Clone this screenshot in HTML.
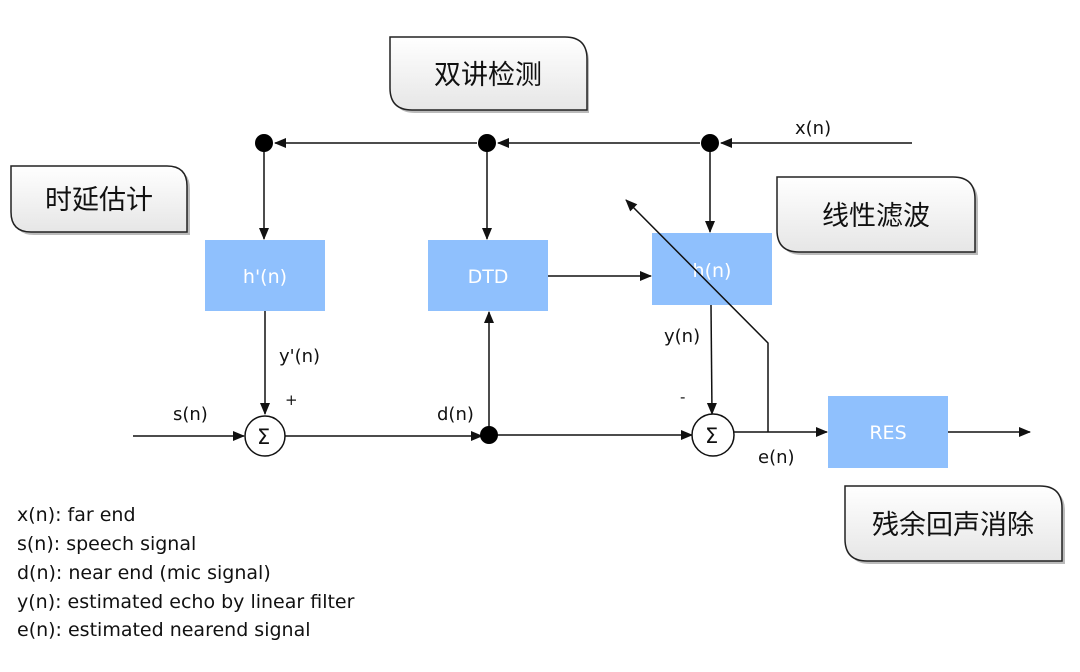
<!DOCTYPE html>
<html><head><meta charset="utf-8"><style>
body{margin:0;background:#fff}
svg{display:block}
text{font-family:"DejaVu Sans","Noto Sans CJK SC",sans-serif}
.cjk{font-family:"Noto Sans CJK SC",sans-serif}
</style></head><body>
<svg width="1080" height="672" viewBox="0 0 1080 672">
<defs>
<linearGradient id="g" x1="0" y1="0" x2="0" y2="1"><stop offset="0" stop-color="#fff"/><stop offset="1" stop-color="#e6e6e6"/></linearGradient>
<marker id="a" markerWidth="12" markerHeight="12" refX="11" refY="6" orient="auto" markerUnits="userSpaceOnUse"><path d="M0,1 L12,6 L0,11 z" fill="#111"/></marker>
</defs>
<g stroke="#222" stroke-width="1.5" fill="url(#g)">
<path d="M393,40 H567 Q589,40 589,62 V113 H415 Q393,113 393,91 Z" fill="#bbb" stroke="none"/>
<path d="M390,37 H565 Q587,37 587,59 V110 H412 Q390,110 390,88 Z"/>
<path d="M14,169 H170 Q190,169 190,189 V235 H34 Q14,235 14,215 Z" fill="#bbb" stroke="none"/>
<path d="M11,166 H167 Q187,166 187,186 V232 H31 Q11,232 11,212 Z"/>
<path d="M780,180 H956 Q978,180 978,202 V255 H802 Q780,255 780,233 Z" fill="#bbb" stroke="none"/>
<path d="M777,177 H953 Q975,177 975,199 V252 H799 Q777,252 777,230 Z"/>
<path d="M848,489 H1043 Q1065,489 1065,511 V564 H870 Q848,564 848,542 Z" fill="#bbb" stroke="none"/>
<path d="M845,486 H1040 Q1062,486 1062,508 V561 H867 Q845,561 845,539 Z"/>
</g>
<g font-size="27" fill="#111" text-anchor="middle" class="cjk">
<text class="cjk" x="488" y="84">双讲检测</text>
<text class="cjk" x="99" y="209">时延估计</text>
<text class="cjk" x="876" y="225">线性滤波</text>
<text class="cjk" x="953" y="534">残余回声消除</text>
</g>
<g fill="#8fc0fd">
<rect x="205" y="240" width="120" height="71"/>
<rect x="428" y="240" width="120" height="71"/>
<rect x="652" y="233" width="120" height="72"/>
<rect x="828" y="396" width="120" height="72"/>
</g>
<g fill="#fff" font-size="19" text-anchor="middle">
<text x="265" y="283">h'(n)</text>
<text x="488" y="283">DTD</text>
<text x="712" y="277">h(n)</text>
<text x="888" y="439">RES</text>
</g>
<g stroke="#111" stroke-width="1.5" fill="none">
<line x1="912" y1="143" x2="721" y2="143" marker-end="url(#a)"/>
<line x1="700" y1="143" x2="498" y2="143" marker-end="url(#a)"/>
<line x1="477" y1="143" x2="275" y2="143" marker-end="url(#a)"/>
<line x1="264" y1="143" x2="264" y2="239" marker-end="url(#a)"/>
<line x1="487" y1="143" x2="487" y2="239" marker-end="url(#a)"/>
<line x1="710" y1="143" x2="710" y2="232" marker-end="url(#a)"/>
<line x1="548" y1="276" x2="651" y2="276" marker-end="url(#a)"/>
<line x1="265" y1="311" x2="265" y2="414" marker-end="url(#a)"/>
<line x1="711" y1="305" x2="712" y2="414" marker-end="url(#a)"/>
<line x1="133" y1="436" x2="244" y2="436" marker-end="url(#a)"/>
<line x1="285" y1="436" x2="482" y2="436" marker-end="url(#a)"/>
<line x1="489" y1="436" x2="489" y2="312" marker-end="url(#a)"/>
<line x1="489" y1="435" x2="692" y2="435" marker-end="url(#a)"/>
<line x1="734" y1="432" x2="827" y2="432" marker-end="url(#a)"/>
<line x1="948" y1="432" x2="1030" y2="432" marker-end="url(#a)"/>
<polyline points="768,432 768,343 626,200" marker-end="url(#a)"/>
<circle cx="265" cy="436" r="20" fill="#fff"/>
<circle cx="713" cy="435" r="21" fill="#fff"/>
</g>
<g fill="#000">
<circle cx="264" cy="143" r="9"/><circle cx="487" cy="143" r="9"/><circle cx="710" cy="143" r="9"/><circle cx="489" cy="435" r="9"/>
</g>
<g font-size="18" fill="#111">
<text x="257" y="444" font-size="21">Σ</text>
<text x="705" y="443" font-size="21">Σ</text>
<text x="795" y="134">x(n)</text>
<text x="279" y="362">y'(n)</text>
<text x="285" y="405" font-size="15">+</text>
<text x="173" y="420">s(n)</text>
<text x="437" y="420">d(n)</text>
<text x="664" y="342">y(n)</text>
<text x="680" y="402" font-size="15">-</text>
<text x="758" y="463">e(n)</text>
</g>
<g font-size="19" fill="#111">
<text x="17" y="521">x(n): far end</text>
<text x="17" y="550">s(n): speech signal</text>
<text x="17" y="579">d(n): near end (mic signal)</text>
<text x="17" y="608">y(n): estimated echo by linear filter</text>
<text x="17" y="636">e(n): estimated nearend signal</text>
</g>
</svg>
</body></html>
